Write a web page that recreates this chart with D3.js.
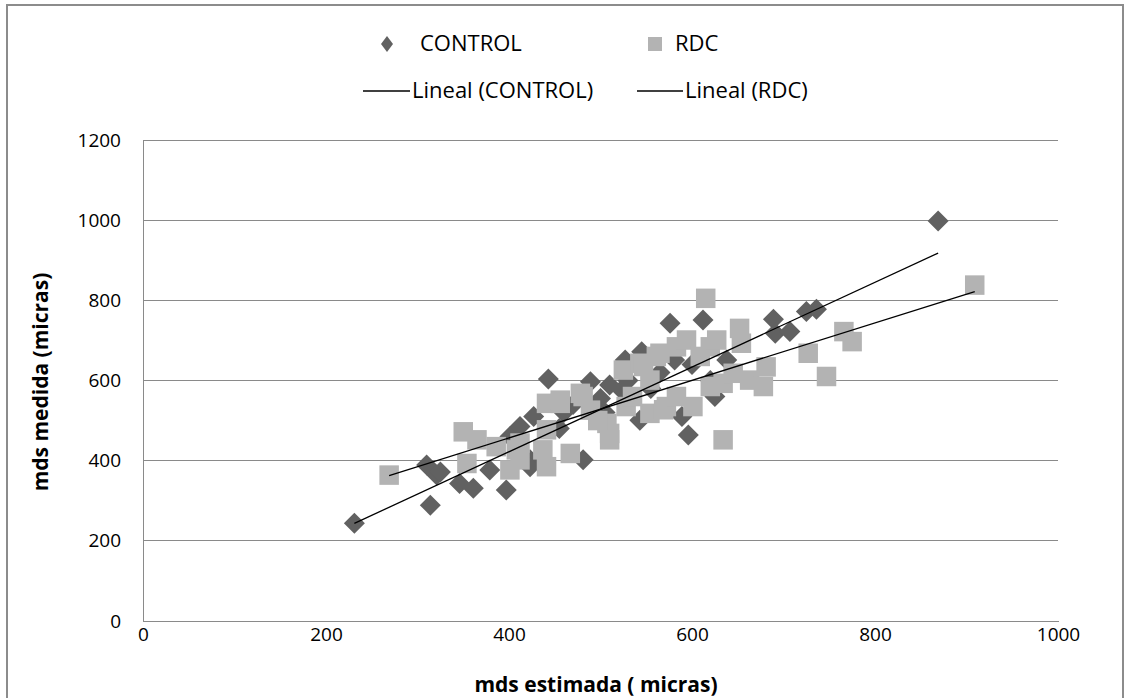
<!DOCTYPE html>
<html><head><meta charset="utf-8">
<script src="https://cdn.jsdelivr.net/npm/d3@7"></script>
<style>body{margin:0;background:#fff}svg{display:block}text{font-family:"Open Sans",Calibri,sans-serif;fill:#000}</style>
</head><body>
<script>
// ---- data ----
const seriesNames = ["CONTROL", "RDC"];
const trendNames = ["Lineal (CONTROL)", "Lineal (RDC)"];
const xTicks = [0, 200, 400, 600, 800, 1000];
const yTicks = [0, 200, 400, 600, 800, 1000, 1200];
const xTitle = "mds estimada ( micras)";
const yTitle = "mds medida (micras)";

const controlX = [231,314,310,321,325,346,361,379,397,401,412,427,423,423,443,481,489,510,523,527,545,543,576,581,589,596,612,625,638,689,691,707,725,736,869,460,470,500,530,555,565,600,620,505,455];
const controlY = [244,289,389,364,372,343,331,377,327,460,485,510,402,385,604,402,597,589,576,651,672,501,743,651,510,464,751,560,651,753,718,722,772,778,998,520,540,555,600,580,620,640,600,520,480];

const rdcX = [269,350,365,354,386,401,408,412,412,437,441,441,441,456,456,467,478,481,489,507,510,510,525,528,543,547,554,554,561,565,569,572,583,583,594,601,609,615,620,620,627,634,634,645,652,654,663,678,681,727,747,766,775,909,497,535];
const rdcY = [364,472,452,393,435,377,427,444,402,427,385,477,543,543,551,418,568,560,526,493,468,452,626,535,643,635,601,518,660,668,527,535,684,560,701,535,660,805,684,585,701,593,452,618,730,693,601,585,634,668,610,722,697,838,500,560];

// linear trendline coefficients [slope, intercept]
const trendControl = [1.057, -0.6];
const trendRdc = [0.717, 170];

// ---- drawing ----
const W = 1130, H = 698;
const svg = d3.select("body").append("svg").attr("width", W).attr("height", H);

svg.append("rect").attr("x", 7).attr("y", 5).attr("width", 1116).attr("height", 720)
  .attr("fill", "none").attr("stroke", "#8c8c8c").attr("stroke-width", 2);

const x = d3.scaleLinear().domain([0, 1000]).range([143, 1058]);
const y = d3.scaleLinear().domain([0, 1200]).range([621, 140]);

// gridlines
svg.append("g").selectAll("line").data(yTicks.filter(d => d > 0)).join("line")
  .attr("x1", x(0)).attr("x2", x(1000)).attr("y1", d => y(d)).attr("y2", d => y(d))
  .attr("stroke", "#8a8a8a").attr("stroke-width", 1).attr("shape-rendering", "crispEdges");

// axes
const fmt = d3.format("d");
const yAxis = d3.axisLeft(y).tickValues(yTicks).tickFormat(fmt).tickSize(0).tickPadding(22);
const gy = svg.append("g").attr("transform", `translate(${x(0)},0)`).call(yAxis);
gy.select(".domain").attr("stroke", "#8a8a8a").attr("shape-rendering", "crispEdges");
gy.selectAll("text").style("font-size", "19px").attr("fill", "#000");

const xAxis = d3.axisBottom(x).tickValues(xTicks).tickFormat(fmt).tickSize(0).tickPadding(6);
const gx = svg.append("g").attr("transform", `translate(0,${y(0)})`).call(xAxis);
gx.select(".domain").attr("stroke", "#8a8a8a").attr("shape-rendering", "crispEdges");
gx.selectAll("text").style("font-size", "19px").attr("fill", "#000");

// axis titles
svg.append("text").attr("x", 596).attr("y", 692).attr("text-anchor", "middle")
  .style("font-size", "21px").style("font-weight", "bold").text(xTitle);
svg.append("text").attr("transform", "translate(48,382) rotate(-90)").attr("text-anchor", "middle")
  .style("font-size", "21px").style("font-weight", "bold").text(yTitle);

const controlData = controlX.map((v, i) => ({x: v, y: controlY[i]}));
const rdcData = rdcX.map((v, i) => ({x: v, y: rdcY[i]}));

const diamond = r => `M0,${-r}L${r},0L0,${r}L${-r},0Z`;
const cColor = "#616161", rColor = "#b3b3b3";

svg.append("g").selectAll("path").data(controlData).join("path")
  .attr("d", diamond(10.5)).attr("transform", d => `translate(${x(d.x)},${y(d.y)})`)
  .attr("fill", cColor);

const sq = 19.5;
svg.append("g").selectAll("rect").data(rdcData).join("rect")
  .attr("x", d => x(d.x) - sq / 2).attr("y", d => y(d.y) - sq / 2)
  .attr("width", sq).attr("height", sq).attr("fill", rColor);

// trendlines
function trend(data, coef) {
  const xs = d3.extent(data, d => d.x);
  return xs.map(v => ({x: v, y: coef[0] * v + coef[1]}));
}
const line = d3.line().x(d => x(d.x)).y(d => y(d.y));
[[controlData, trendControl], [rdcData, trendRdc]].forEach(([d, c]) => {
  svg.append("path").datum(trend(d, c)).attr("d", line)
    .attr("fill", "none").attr("stroke", "#000").attr("stroke-width", 1.3);
});

// legend
const lg = svg.append("g");
lg.append("path").attr("d", "M0,-8L6,0L0,8L-6,0Z").attr("transform", "translate(387,44)").attr("fill", cColor);
lg.append("text").attr("x", 420).attr("y", 51).style("font-size", "22px").text(seriesNames[0]);
lg.append("rect").attr("x", 648).attr("y", 37).attr("width", 14).attr("height", 14).attr("fill", rColor);
lg.append("text").attr("x", 675).attr("y", 51).style("font-size", "22px").text(seriesNames[1]);
lg.append("line").attr("x1", 363).attr("x2", 410).attr("y1", 91).attr("y2", 91).attr("stroke", "#000").attr("stroke-width", 1.3);
lg.append("text").attr("x", 412).attr("y", 98).style("font-size", "22px").text(trendNames[0]);
lg.append("line").attr("x1", 637).attr("x2", 683).attr("y1", 91).attr("y2", 91).attr("stroke", "#000").attr("stroke-width", 1.3);
lg.append("text").attr("x", 685).attr("y", 98).style("font-size", "22px").text(trendNames[1]);
</script>
</body></html>
